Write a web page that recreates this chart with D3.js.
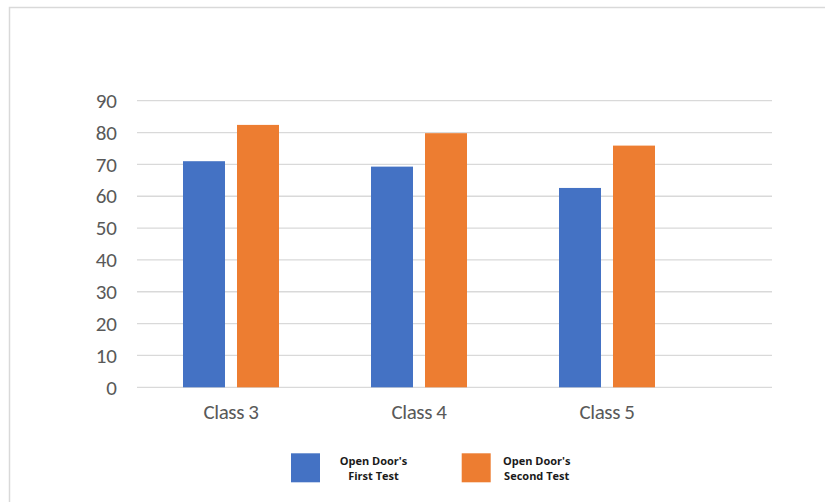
<!DOCTYPE html>
<html>
<head>
<meta charset="utf-8">
<script src="https://cdn.jsdelivr.net/npm/d3@7"></script>
<style>
  html, body { margin: 0; padding: 0; background: #fff; }
  svg { display: block; }
</style>
</head>
<body>
<svg id="chart" width="825" height="502"></svg>
<script>
// Test scores per class, two sittings of the Open Door test
const categories = ["Class 3", "Class 4", "Class 5"];
const seriesNames = ["Open Door's First Test", "Open Door's Second Test"];
const firstTest = [71, 69.3, 62.6];
const secondTest = [82.4, 79.8, 75.9];
const yTicks = [0, 10, 20, 30, 40, 50, 60, 70, 80, 90];
const legendLines = [["Open Door's", "First Test"], ["Open Door's", "Second Test"]];

const colors = ["#4472c4", "#ed7d31"];
const axisFont = "Carlito, 'Liberation Sans', sans-serif";

const svg = d3.select("#chart");

// chart-area frame
svg.append("rect")
  .attr("x", 9.5).attr("y", 7.5)
  .attr("width", 830).attr("height", 520)
  .attr("fill", "none")
  .attr("stroke", "#d9d9d9")
  .attr("stroke-width", 1.5);

const plot = { left: 137, right: 772, top: 100.7, bottom: 387.3 };

const y = d3.scaleLinear().domain([0, 90]).range([plot.bottom, plot.top]);

const x = d3.scaleBand()
  .domain(categories)
  .range([137, 701])
  .paddingInner(0).paddingOuter(0);

const groupWidth = 96;
const inner = d3.scaleBand()
  .domain([0, 1])
  .range([0, groupWidth])
  .paddingInner(12 / 54);

// gridlines
svg.append("g")
  .selectAll("line")
  .data(yTicks)
  .join("line")
  .attr("x1", plot.left).attr("x2", plot.right)
  .attr("y1", d => y(d)).attr("y2", d => y(d))
  .attr("stroke", "#d9d9d9")
  .attr("stroke-width", 1.3);

// y axis labels
const yAxis = svg.append("g")
  .attr("transform", `translate(${plot.left},0)`)
  .call(d3.axisLeft(y).tickValues(yTicks).tickSize(0).tickPadding(20).tickFormat(d3.format("d")));
yAxis.select(".domain").remove();
yAxis.selectAll("text")
  .attr("fill", "#595959")
  .style("font-family", axisFont)
  .style("font-size", "21px");

// bars
const rows = categories.map((c, i) => ({ cat: c, vals: [firstTest[i], secondTest[i]] }));
const groups = svg.append("g")
  .selectAll("g")
  .data(rows)
  .join("g")
  .attr("transform", d => `translate(${x(d.cat) + x.bandwidth() / 2 - groupWidth / 2},0)`);

groups.selectAll("rect")
  .data(d => d.vals.map((v, k) => ({ v, k })))
  .join("rect")
  .attr("x", d => inner(d.k))
  .attr("width", inner.bandwidth())
  .attr("y", d => y(d.v))
  .attr("height", d => y(0) - y(d.v))
  .attr("fill", d => colors[d.k]);

// x axis labels
const xAxis = svg.append("g")
  .attr("transform", `translate(0,${plot.bottom})`)
  .call(d3.axisBottom(x).tickSize(0).tickPadding(17));
xAxis.select(".domain").remove();
xAxis.selectAll("text")
  .attr("fill", "#595959")
  .style("font-family", axisFont)
  .style("font-size", "21px")
  .style("letter-spacing", "-0.4px");

// legend
const legendX = [291, 461.7];
const legend = svg.append("g")
  .selectAll("g")
  .data(seriesNames)
  .join("g")
  .attr("transform", (d, i) => `translate(${legendX[i]},453.3)`);

legend.append("rect")
  .attr("width", 29).attr("height", 29)
  .attr("fill", (d, i) => colors[i]);

legend.append("text")
  .attr("x", (d, i) => i === 0 ? 82.5 : 75)
  .attr("text-anchor", "middle")
  .style("font-family", "'Open Sans', sans-serif")
  .style("font-weight", "bold")
  .style("font-size", "11px")
  .attr("fill", "#1a1a1a")
  .selectAll("tspan")
  .data((d, i) => legendLines[i])
  .join("tspan")
  .attr("x", function () { return d3.select(this.parentNode).attr("x"); })
  .attr("y", (d, j) => 12 + j * 14.5)
  .text(d => d);
</script>
</body>
</html>
